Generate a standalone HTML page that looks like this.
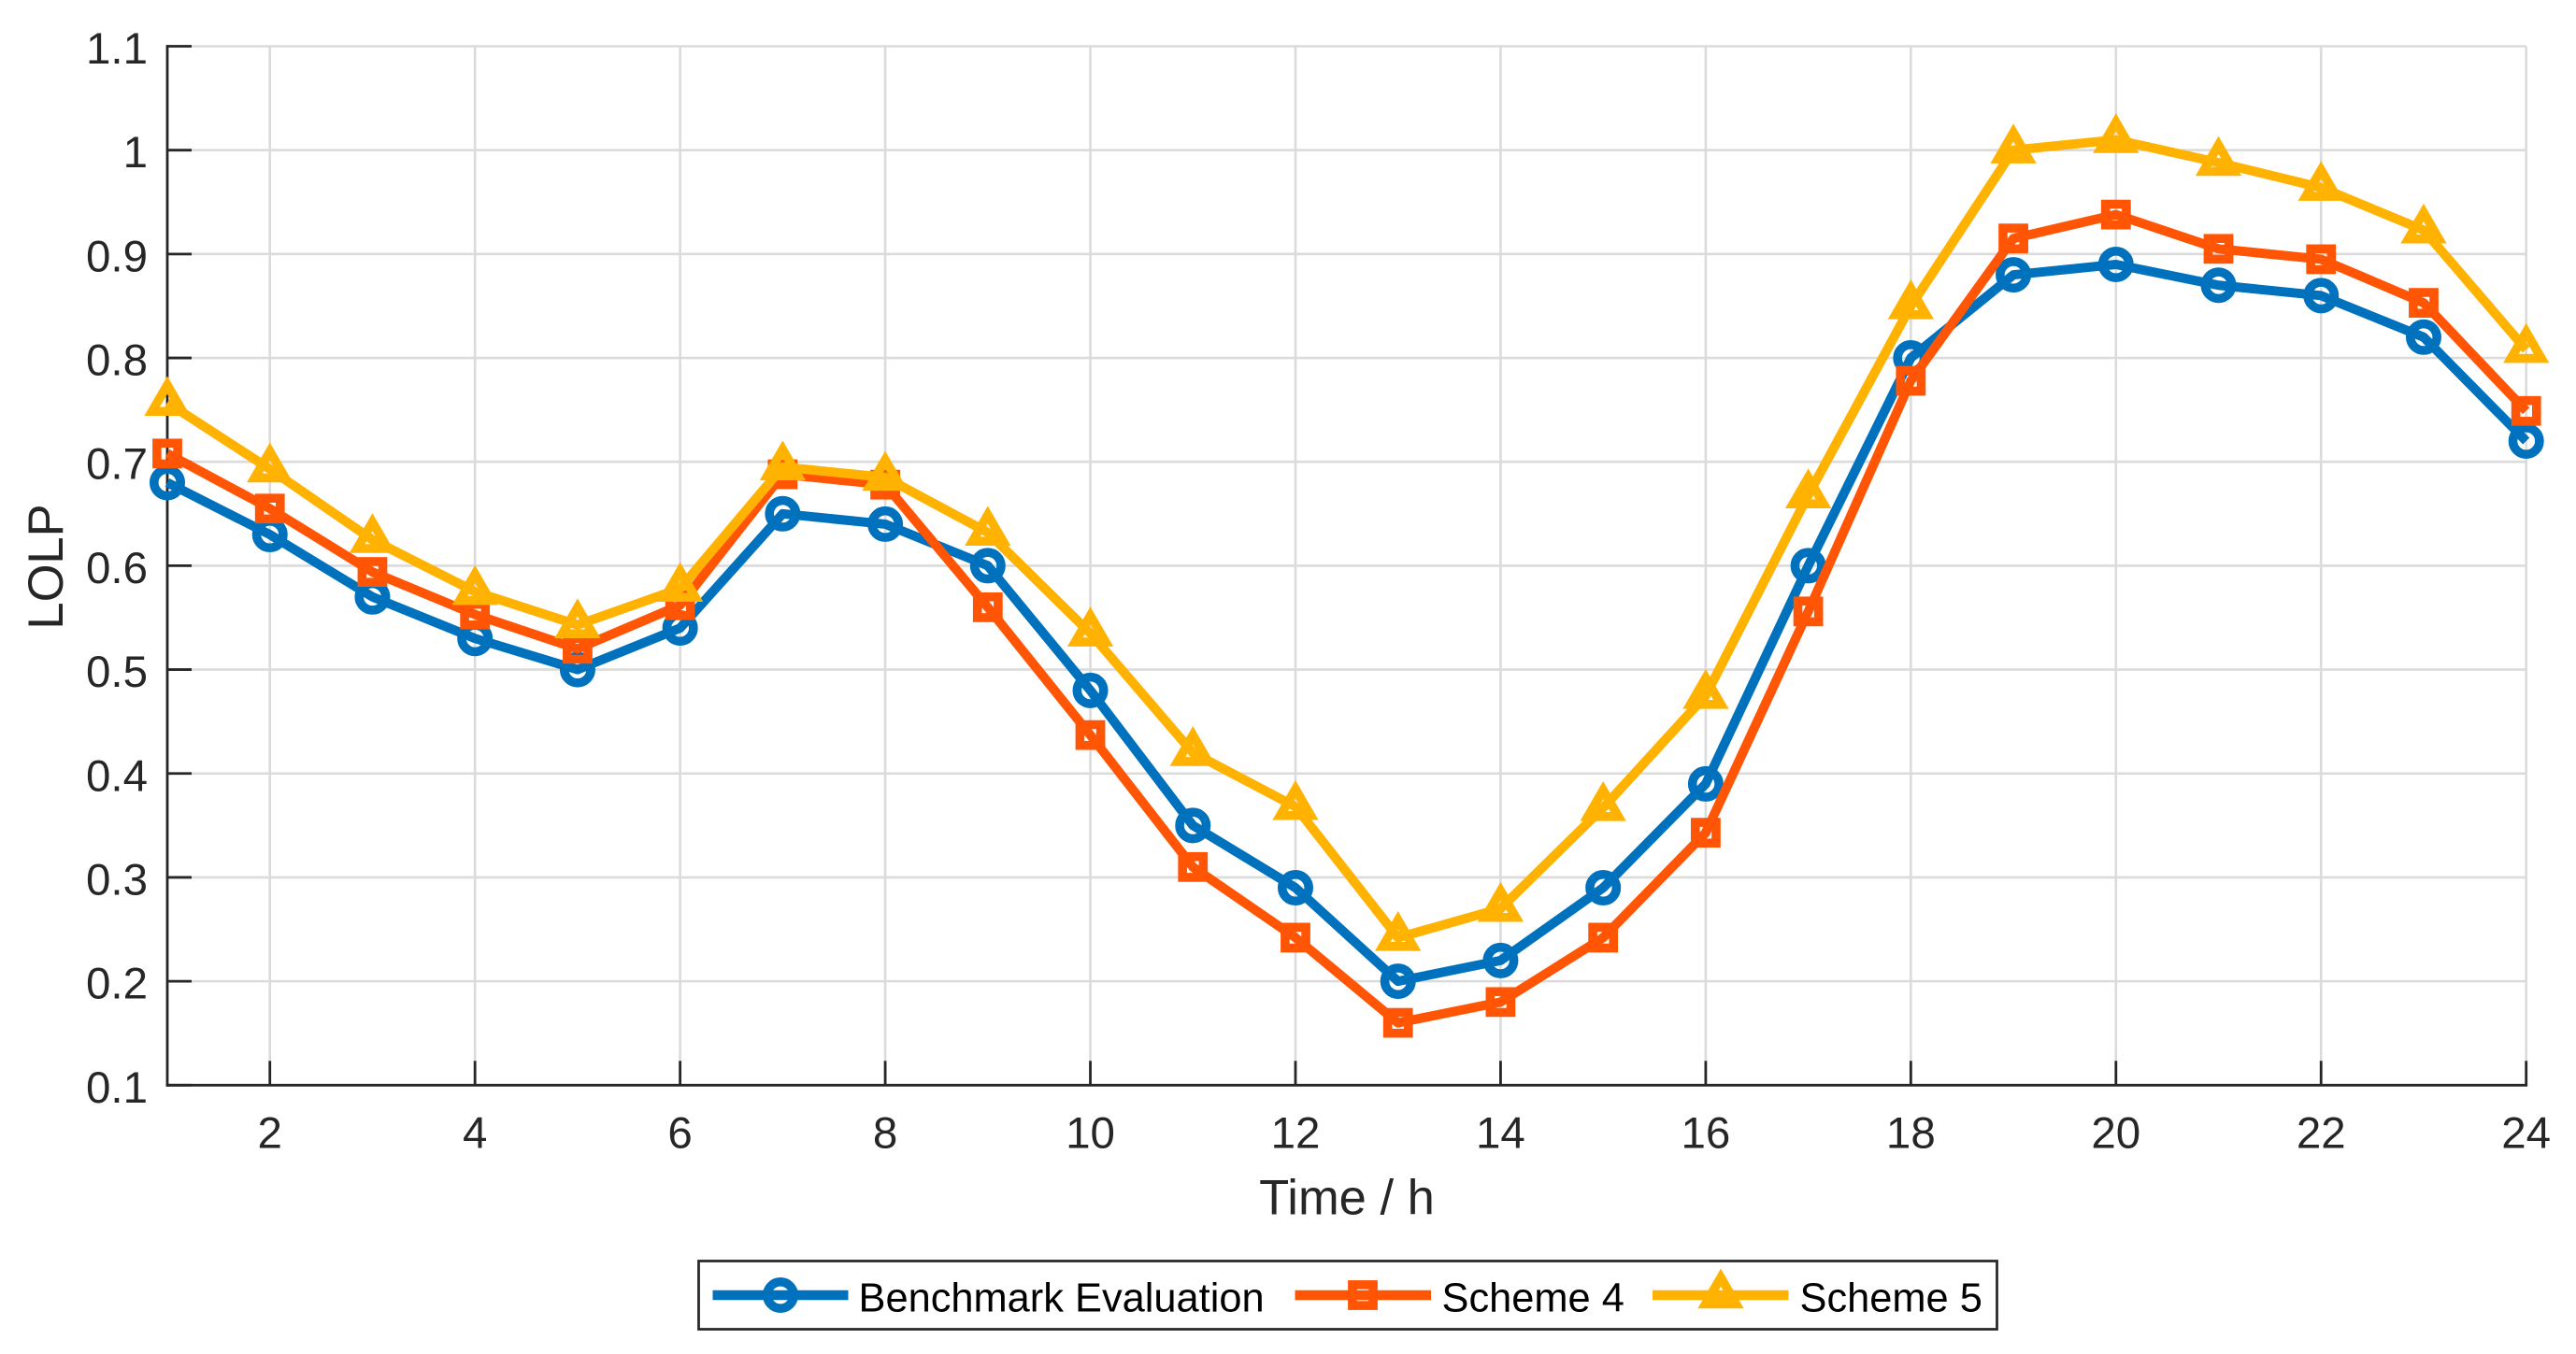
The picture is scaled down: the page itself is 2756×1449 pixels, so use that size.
<!DOCTYPE html>
<html lang="en">
<head>
<meta charset="utf-8">
<title>LOLP chart</title>
<style>
  html, body { margin: 0; padding: 0; background: #fff; }
  svg { display: block; font-family: "Liberation Sans", Arial, sans-serif; }
</style>
</head>
<body>
<svg id="chart" xmlns="http://www.w3.org/2000/svg" width="2756" height="1449" viewBox="0 0 2756 1449">
  <rect x="0" y="0" width="2756" height="1449" fill="#ffffff"/>
  <g id="grid"></g>
  <g id="axes"></g>
  <g id="series"></g>
  <text x="1441" y="1299.5" font-size="52.5" text-anchor="middle" fill="#262626">Time / h</text>
  <text transform="translate(67 606.5) rotate(-90)" font-size="52.5" text-anchor="middle" fill="#262626">LOLP</text>
  <g id="legend">
    <rect x="747.5" y="1349.5" width="1389" height="73" fill="#ffffff" stroke="#2a2a2a" stroke-width="2.8"/>
  </g>
</svg>
<script>
const hours = [1,2,3,4,5,6,7,8,9,10,11,12,13,14,15,16,17,18,19,20,21,22,23,24];
const benchmarkEvaluation = [0.68,0.63,0.57,0.53,0.50,0.54,0.65,0.64,0.60,0.48,0.35,0.29,0.20,0.22,0.29,0.39,0.60,0.80,0.88,0.89,0.87,0.86,0.82,0.72];
const scheme4 = [0.708,0.655,0.594,0.553,0.52,0.562,0.688,0.678,0.56,0.437,0.31,0.242,0.16,0.18,0.242,0.343,0.556,0.778,0.915,0.938,0.905,0.895,0.853,0.749];
const scheme5 = [0.757,0.693,0.625,0.575,0.543,0.578,0.695,0.685,0.632,0.535,0.42,0.368,0.242,0.27,0.367,0.475,0.668,0.85,1.0,1.01,0.988,0.964,0.923,0.808];
const xTickValues = [2,4,6,8,10,12,14,16,18,20,22,24];
const yTickValues = [0.1,0.2,0.3,0.4,0.5,0.6,0.7,0.8,0.9,1,1.1];
const xDomain = [1, 24];
const yDomain = [0.1, 1.1];

const NS = 'http://www.w3.org/2000/svg';
const plotLeft = 179, plotRight = 2702.7, plotTop = 49.5, plotBottom = 1161.3;
const xScale = v => plotLeft + (v - xDomain[0]) / (xDomain[1] - xDomain[0]) * (plotRight - plotLeft);
const yScale = v => plotBottom - (v - yDomain[0]) / (yDomain[1] - yDomain[0]) * (plotBottom - plotTop);

function make(tag, attrs, parent) {
  const el = document.createElementNS(NS, tag);
  for (const k in attrs) el.setAttribute(k, attrs[k]);
  parent.appendChild(el);
  return el;
}

const gridG = document.getElementById('grid');
const axesG = document.getElementById('axes');
const seriesG = document.getElementById('series');
const legendG = document.getElementById('legend');
const gridColor = '#dbdbdb', axisColor = '#262626', labelColor = '#262626';

yTickValues.forEach(v => {
  const y = yScale(v);
  const g = make('line', {x1: plotLeft, x2: plotRight, y1: y, y2: y, stroke: gridColor, 'stroke-width': 2.6}, gridG);
  
  
  const t = make('line', {x1: plotLeft, x2: plotLeft + 26, y1: y, y2: y, stroke: axisColor, 'stroke-width': 2.8}, axesG);
  
  
  const l = make('text', {x: plotLeft - 21, y: y + 18.5, 'font-size': 47.5, 'text-anchor': 'end', fill: labelColor}, axesG);
  
  
  l.textContent = String(v);
});

xTickValues.forEach(v => {
  const x = xScale(v);
  const g = make('line', {x1: x, x2: x, y1: plotTop, y2: plotBottom, stroke: gridColor, 'stroke-width': 2.6}, gridG);
  
  
  const t = make('line', {x1: x, x2: x, y1: plotBottom, y2: plotBottom - 26, stroke: axisColor, 'stroke-width': 2.8}, axesG);
  
  
  const l = make('text', {x: x, y: 1228.5, 'font-size': 47.5, 'text-anchor': 'middle', fill: labelColor}, axesG);
  
  
  l.textContent = String(v);
});

const yAxisLine = make('line', {x1: plotLeft, x2: plotLeft, y1: plotTop - 1.4, y2: plotBottom + 1.4, stroke: axisColor, 'stroke-width': 2.8}, axesG);


const xAxisLine = make('line', {x1: plotLeft - 1.4, x2: plotRight + 1.4, y1: plotBottom, y2: plotBottom, stroke: axisColor, 'stroke-width': 2.8}, axesG);



const markerStroke = 9.6;
function drawMarker(kind, cx, cy, color, parent) {
  const base = {fill: 'none', stroke: color, 'stroke-width': markerStroke};
  if (kind === 'circle') {
    return make('circle', Object.assign({cx: cx, cy: cy, r: 14.2}, base), parent);
  }
  if (kind === 'square') {
    return make('rect', Object.assign({x: cx - 11.1, y: cy - 11.1, width: 22.2, height: 22.2}, base), parent);
  }
  const pts = [[cx, cy - 18.8], [cx + 16.3, cy + 9.4], [cx - 16.3, cy + 9.4]].map(p => p.join(',')).join(' ');
  return make('polygon', Object.assign({points: pts, 'stroke-linejoin': 'miter', 'stroke-miterlimit': 10}, base), parent);
}

function drawSeries(values, color, kind, seriesName) {
  const g = make('g', {}, seriesG);
  
  
  const pts = hours.map((h, i) => xScale(h) + ',' + yScale(values[i])).join(' ');
  const line = make('polyline', {points: pts, fill: 'none', stroke: color, 'stroke-width': 10, 'stroke-linejoin': 'round'}, g);
  
  
  hours.forEach((h, i) => {
    const m = drawMarker(kind, xScale(h), yScale(values[i]), color, g);
    
    
  });
}

const blue = '#0072BD', orange = '#FF5505', yellow = '#FFB200';
drawSeries(benchmarkEvaluation, blue, 'circle', 'benchmark-evaluation-series');
drawSeries(scheme4, orange, 'square', 'scheme-4-series');
drawSeries(scheme5, yellow, 'triangle', 'scheme-5-series');

function legendEntry(label, color, kind, x1, x2, mx, tx, entryName) {
  const g = make('g', {}, legendG);
  
  
  const ln = make('line', {x1: x1, x2: x2, y1: 1386, y2: 1386, stroke: color, 'stroke-width': 10.5}, g);
  
  
  const mk = drawMarker(kind, mx, 1386, color, g);
  
  
  const tt = make('text', {x: tx, y: 1403.5, 'font-size': 43.4, fill: '#000000'}, g);
  
  
  tt.textContent = label;
}

legendEntry('Benchmark Evaluation', blue, 'circle', 762.5, 907.5, 835, 918.5, 'legend-entry-benchmark');
legendEntry('Scheme 4', orange, 'square', 1385.5, 1531, 1458, 1542.5, 'legend-entry-scheme-4');
legendEntry('Scheme 5', yellow, 'triangle', 1768, 1913.5, 1841, 1925.5, 'legend-entry-scheme-5');
</script>
</body>
</html>
